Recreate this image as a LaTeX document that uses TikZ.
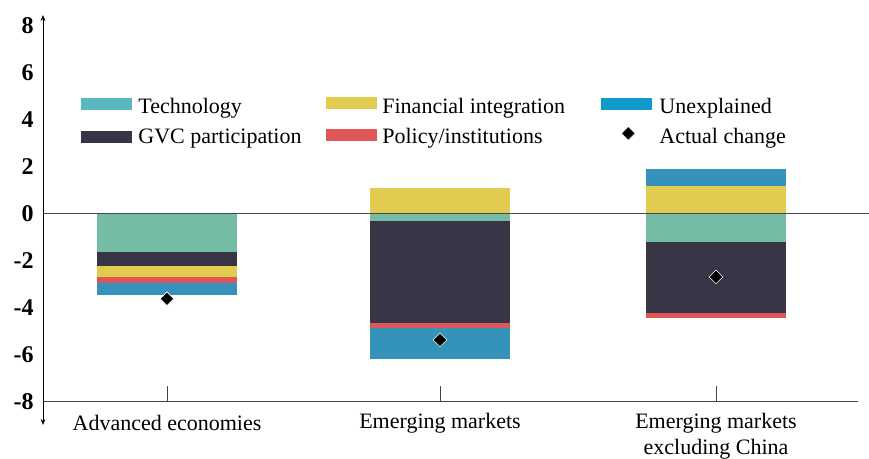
\documentclass[tikz,border=0pt]{standalone}
\usepackage{fontspec}
\setmainfont{Liberation Serif}
\usetikzlibrary{shapes.geometric,arrows.meta}

\definecolor{techleg}{RGB}{88,183,192}
\definecolor{techbar}{RGB}{116,188,165}
\definecolor{gvc}{RGB}{55,53,70}
\definecolor{fin}{RGB}{226,204,79}
\definecolor{pol}{RGB}{223,86,86}
\definecolor{unexleg}{RGB}{16,154,204}
\definecolor{unexbar}{RGB}{53,146,186}
\definecolor{axisgray}{RGB}{70,70,70}

\begin{document}
\begin{tikzpicture}[x=0.5pt, y=11.75pt, font=\fontsize{11}{13}\selectfont,
		swatch/.style={fill=#1, minimum width=25.5pt, minimum height=6.2pt, inner sep=0pt, anchor=north west},
		lbl/.style={anchor=base west, inner sep=0pt},
		ticklbl/.style={anchor=east, inner sep=0pt, font=\fontsize{12}{13}\selectfont\bfseries},
		actual/.style={diamond, fill=black, draw=white, line width=0.3pt, minimum size=7pt, inner sep=0pt},
		axisline/.style={line width=0.5pt, draw=axisgray}]
	\useasboundingbox (0,-10.447) rectangle (869,9.085);

	% stacked bars
	\foreach \c/\x/\a/\b in {techbar/167/0/-1.63, gvc/167/-1.63/-2.25, fin/167/-2.25/-2.72, pol/167/-2.72/-2.95, unexbar/167/-2.95/-3.45,
			fin/440/0/1.08, techbar/440/0/-0.31, gvc/440/-0.31/-4.65, pol/440/-4.65/-4.88, unexbar/440/-4.88/-6.19,
			fin/716/0/1.16, unexbar/716/1.16/1.91, techbar/716/0/-1.23, gvc/716/-1.23/-4.22, pol/716/-4.22/-4.45}
		\fill[\c] (\x-70,\a) rectangle (\x+70,\b);
	\node[actual] (act1) at (167,-3.63) {};
	\node[actual] (act2) at (440,-5.38) {};
	\node[actual] (act3) at (716,-2.70) {};

	% axes
	\coordinate (ytop) at (43,8.45);
	\coordinate (ybot) at (43,-9.0);
	\draw[line width=0.5pt, {Stealth[length=3pt,width=2.4pt]}-{Stealth[length=3pt,width=2.4pt]}] (ybot) -- (ytop);
	\coordinate (zl) at (43,0);
	\coordinate (zr) at (869,0);
	\draw[axisline] (zl) -- (zr);
	\coordinate (bl) at (43,-8);
	\coordinate (br) at (858,-8);
	\draw[axisline] (bl) -- (br);
	\foreach \x in {167,440,716}
		\draw[axisline] (\x,-8) -- ++(0,0.64);
	\foreach \v in {8,6,4,2,0,-2,-4,-6,-8}
		\node[ticklbl] (tick\v) at (34,\v) {\v};

	% category labels
	\node (catAE) at (167,-8.91) {Advanced economies};
	\node (catEM) at (440,-8.91) {Emerging markets};
	\node[align=center] (catEX) at (716,-9.47) {Emerging markets\\excluding China};

	% legend
	\node[swatch=techleg] (swTech) at (80.7,4.93) {};
	\node[lbl] (lbTech) at (138,4.26) {Technology};
	\node[swatch=gvc] (swGvc) at (80.7,3.53) {};
	\node[lbl] (lbGvc) at (138,2.97) {GVC participation};
	\node[swatch=fin] (swFin) at (326,4.97) {};
	\node[lbl] (lbFin) at (382,4.26) {Financial integration};
	\node[swatch=pol] (swPol) at (326,3.62) {};
	\node[lbl] (lbPol) at (382,2.97) {Policy/institutions};
	\node[swatch=unexleg] (swUnex) at (600.7,4.93) {};
	\node[lbl] (lbUnex) at (659,4.26) {Unexplained};
	\node[actual] (swAct) at (628.3,3.41) {};
	\node[lbl] (lbAct) at (659,2.97) {Actual change};
\end{tikzpicture}
\end{document}
